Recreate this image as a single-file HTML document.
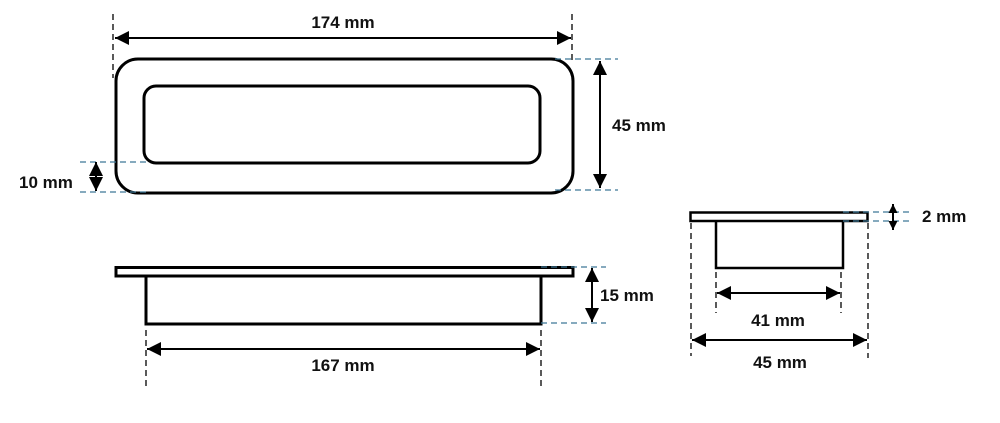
<!DOCTYPE html>
<html><head><meta charset="utf-8"><style>
html,body{margin:0;padding:0;background:#fff;width:1000px;height:423px;overflow:hidden}
text{font-family:"Liberation Sans",sans-serif;font-weight:bold;font-size:17px;fill:#111}
</style></head><body>
<svg width="1000" height="423" viewBox="0 0 1000 423" xmlns="http://www.w3.org/2000/svg">
<defs>
<marker id="a" viewBox="0 0 10 10" refX="10" refY="5" markerWidth="14" markerHeight="14" markerUnits="userSpaceOnUse" orient="auto-start-reverse">
<path d="M0,0 L10,5 L0,10 z" fill="#000"/></marker>
<marker id="s" viewBox="0 0 10 10" refX="10" refY="5" markerWidth="9" markerHeight="9" markerUnits="userSpaceOnUse" orient="auto-start-reverse">
<path d="M0,0 L10,5 L0,10 z" fill="#000"/></marker>
</defs>
<g fill="none" stroke="#000">
<rect x="116" y="59" width="457" height="134" rx="22" stroke-width="3"/>
<rect x="144" y="86" width="396" height="77" rx="12" stroke-width="3"/>
<rect x="116" y="267.5" width="457" height="8.5" stroke-width="3"/>
<polyline points="146,276 146,324 541,324 541,276" stroke-width="3"/>
<rect x="690.5" y="212.5" width="177" height="8.5" stroke-width="2.5"/>
<polyline points="716,221 716,268 843,268 843,221" stroke-width="2.5"/>
</g>
<g stroke="#000" stroke-width="1.3" stroke-dasharray="6,4" fill="none">
<line x1="113" y1="14" x2="113" y2="78"/>
<line x1="572" y1="14" x2="572" y2="60"/>
<line x1="146" y1="330" x2="146" y2="386"/>
<line x1="541" y1="330" x2="541" y2="386"/>
<line x1="691" y1="223" x2="691" y2="356"/>
<line x1="868" y1="223" x2="868" y2="358"/>
<line x1="716" y1="272" x2="716" y2="313"/>
<line x1="841" y1="272" x2="841" y2="313"/>
</g>
<g stroke="#3f7896" stroke-width="1.3" stroke-dasharray="6,4" fill="none">
<line x1="555" y1="59" x2="618" y2="59"/>
<line x1="555" y1="190" x2="618" y2="190"/>
<line x1="80" y1="162" x2="150" y2="162"/>
<line x1="80" y1="192" x2="150" y2="192"/>
<line x1="541" y1="267" x2="606" y2="267"/>
<line x1="541" y1="323" x2="606" y2="323"/>
<line x1="843" y1="212" x2="910" y2="212"/>
<line x1="843" y1="221" x2="910" y2="221"/>
</g>
<g stroke="#000" stroke-width="2" fill="none">
<line x1="115" y1="38" x2="571" y2="38" marker-start="url(#a)" marker-end="url(#a)"/>
<line x1="600" y1="61" x2="600" y2="188" marker-start="url(#a)" marker-end="url(#a)"/>
<line x1="96" y1="162" x2="96" y2="191" marker-start="url(#a)" marker-end="url(#a)"/>
<line x1="147" y1="349" x2="540" y2="349" marker-start="url(#a)" marker-end="url(#a)"/>
<line x1="592" y1="268" x2="592" y2="322" marker-start="url(#a)" marker-end="url(#a)"/>
<line x1="717" y1="293" x2="840" y2="293" marker-start="url(#a)" marker-end="url(#a)"/>
<line x1="692" y1="340" x2="867" y2="340" marker-start="url(#a)" marker-end="url(#a)"/>
<line x1="893" y1="204" x2="893" y2="230" marker-start="url(#s)" marker-end="url(#s)"/>
</g>
<text x="343" y="28" text-anchor="middle">174 mm</text>
<text x="612" y="131">45 mm</text>
<text x="19" y="188">10 mm</text>
<text x="343" y="371" text-anchor="middle">167 mm</text>
<text x="600" y="301">15 mm</text>
<text x="922" y="222">2 mm</text>
<text x="778" y="326" text-anchor="middle">41 mm</text>
<text x="780" y="368" text-anchor="middle">45 mm</text>
</svg>
</body></html>
